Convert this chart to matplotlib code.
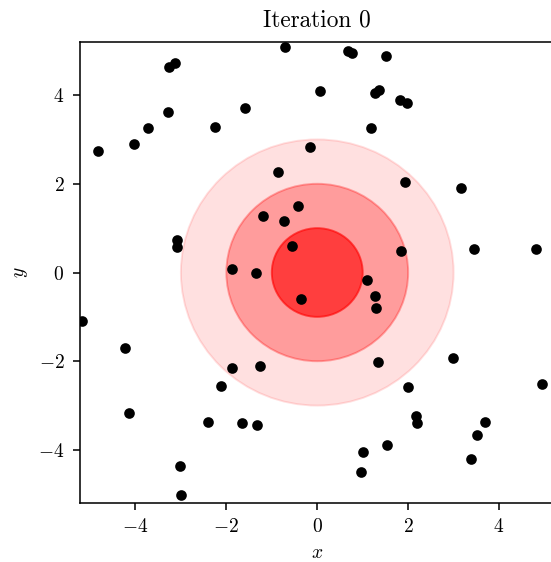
import numpy as np
import matplotlib
matplotlib.use('Agg')
import matplotlib.pyplot as plt
from matplotlib.patches import Circle

plt.rcParams['font.family'] = 'serif'
plt.rcParams['font.serif'] = ['cmr10']
plt.rcParams['mathtext.fontset'] = 'cm'
plt.rcParams['axes.formatter.use_mathtext'] = True

# points
xs = [-3.27, -3.13, -3.28, -3.72, -4.03, -4.82, -2.24, -3.09, -3.09, -1.87,
      -0.71, 0.68, 0.76, 1.51, 0.07, 1.27, 1.36, 1.82, 1.97, -1.59,
      1.18, -0.17, -0.86, -0.43, -1.19, -0.74, -0.56, 1.84, -1.35, 1.93,
      3.16, 3.45, 4.82, -5.17, -4.23, -1.87, -2.11, -4.15, -2.40, -1.66,
      -3.02, -3.00, -0.36, 1.10, 1.26, 1.30, -1.26, 1.34, -1.32, 1.54,
      1.01, 0.96, 2.98, 1.99, 4.95, 2.17, 2.20, 3.69, 3.52, 3.38]
ys = [4.64, 4.73, 3.61, 3.25, 2.89, 2.73, 3.28, 0.74, 0.57, 0.08,
      5.09, 5.00, 4.94, 4.87, 4.10, 4.04, 4.12, 3.89, 3.83, 3.71,
      3.25, 2.84, 2.27, 1.50, 1.28, 1.17, 0.59, 0.48, -0.02, 2.04,
      1.91, 0.54, 0.54, -1.10, -1.70, -2.16, -2.55, -3.17, -3.36, -3.40,
      -4.36, -5.01, -0.60, -0.16, -0.53, -0.81, -2.10, -2.02, -3.43, -3.88,
      -4.04, -4.50, -1.93, -2.59, -2.52, -3.23, -3.39, -3.38, -3.67, -4.21]

radii = [3, 2, 1]
alphas = [0.12, 0.3, 0.6]
title = 'Iteration 0'

# the original looks like a default figure saved at ~140 dpi
dpi = 140
fig = plt.figure(figsize=(551 / dpi, 562 / dpi), dpi=dpi)
ax = fig.add_axes([80 / 551, 59.3 / 562, 474.5 / 551, 460.4 / 562])

for r, a in zip(radii, alphas):
    ax.add_patch(Circle((0, 0), r, facecolor='red', edgecolor='red', alpha=a, zorder=1))

ax.scatter(xs, ys, s=20, c='black', zorder=3)

ax.set_xlim(-5.22, 5.22)
ax.set_ylim(-5.19, 5.19)
ax.set_xticks([-4, -2, 0, 2, 4])
ax.set_yticks([-4, -2, 0, 2, 4])
ax.tick_params(pad=4.5)
ax.set_xlabel('$x$', labelpad=4)
ax.set_ylabel('$y$')
ax.set_title(title, pad=8)

fig.savefig('out.png', dpi=dpi)
